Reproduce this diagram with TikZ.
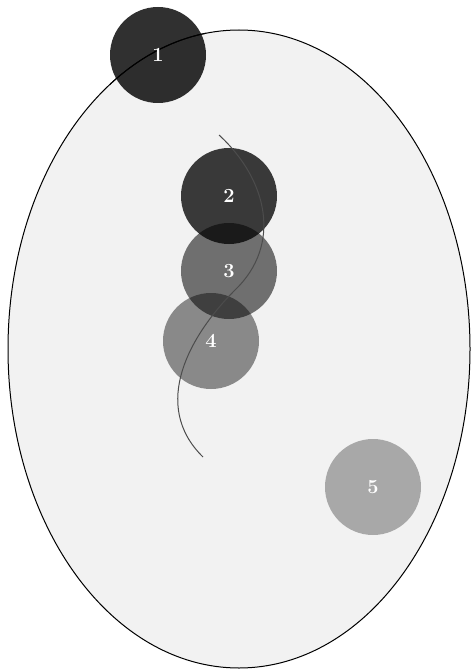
\documentclass[tikz,border=0pt]{standalone}
\begin{document}
\begin{tikzpicture}[x=1pt,y=-1pt,
  blob/.style={circle,minimum size=96pt,inner sep=0pt,text=white,font=\fontsize{20}{22}\selectfont\bfseries},
  rim/.style={line width=1pt,black},
]
\useasboundingbox (0,0) rectangle (472,671);
\fill[white] (0,0) rectangle (472,671);
\draw[rim,fill=black!5] (239,349) ellipse [x radius=231pt, y radius=319pt];
\fill[black,fill opacity=0.81] (158,55) circle[radius=48pt];
\begin{scope}
\clip (110,7) rectangle (206,103);
\draw[rim] (239,349) ellipse [x radius=231pt, y radius=319pt];
\end{scope}
\fill[black,fill opacity=0.76] (229,196) circle[radius=48pt];
\fill[black,fill opacity=0.54] (229,271) circle[radius=48pt];
\fill[black,fill opacity=0.43] (211,341) circle[radius=48pt];
\fill[black,fill opacity=0.30] (373,487) circle[radius=48pt];
\coordinate (s) at (219,135);
\coordinate (m) at (235,290);
\coordinate (e) at (203,457);
\draw[black!70,line width=1pt] (s) .. controls (268,180) and (282,245) .. (m)
  .. controls (190,335) and (150,405) .. (e);
\node[blob] (c1) at (158,55) {1};
\node[blob] (c2) at (229,196) {2};
\node[blob] (c3) at (229,271) {3};
\node[blob] (c4) at (211,341) {4};
\node[blob] (c5) at (373,487) {5};
\end{tikzpicture}
\end{document}
